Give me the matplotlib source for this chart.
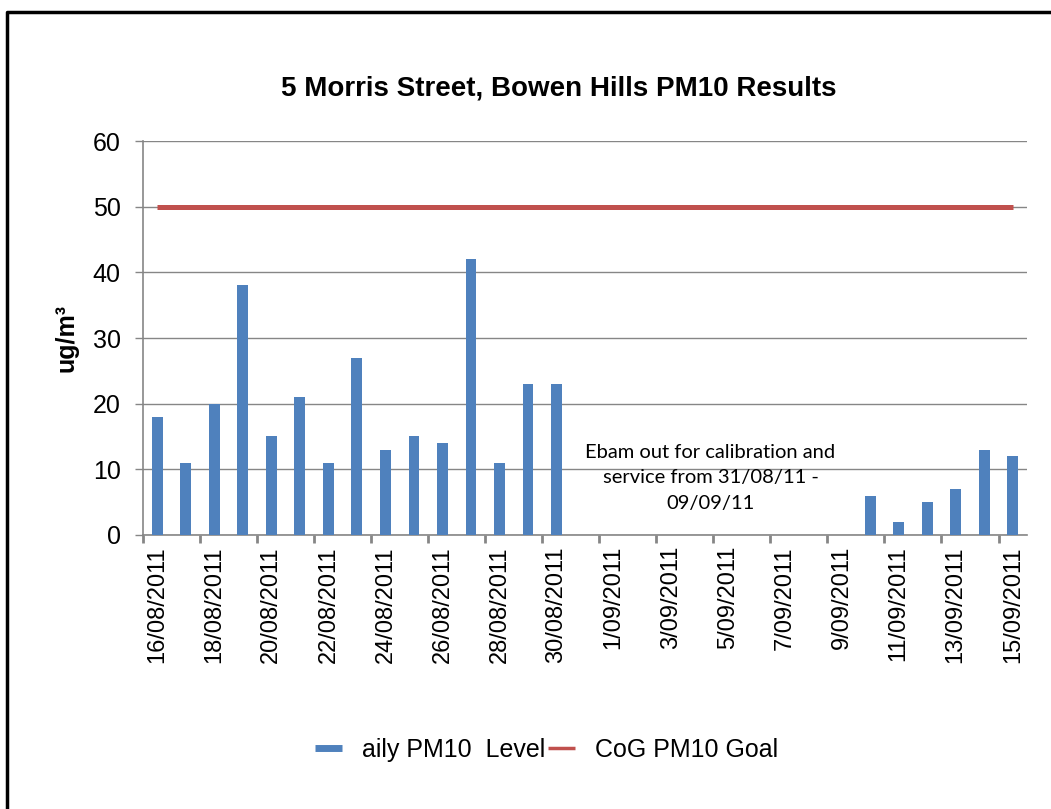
import numpy as np
import matplotlib
matplotlib.use("Agg")
import matplotlib.pyplot as plt
from matplotlib.lines import Line2D

plt.rcParams['font.family'] = ['Liberation Sans', 'DejaVu Sans']

# daily readings, 16/08/2011 - 15/09/2011 (None = Ebam offline)
dates = ['16/08/2011', '17/08/2011', '18/08/2011', '19/08/2011', '20/08/2011',
         '21/08/2011', '22/08/2011', '23/08/2011', '24/08/2011', '25/08/2011',
         '26/08/2011', '27/08/2011', '28/08/2011', '29/08/2011', '30/08/2011',
         '31/08/2011', '1/09/2011', '2/09/2011', '3/09/2011', '4/09/2011',
         '5/09/2011', '6/09/2011', '7/09/2011', '8/09/2011', '9/09/2011',
         '10/09/2011', '11/09/2011', '12/09/2011', '13/09/2011', '14/09/2011',
         '15/09/2011']
pm10 = [18, 11, 20, 38, 15, 21, 11, 27, 13, 15, 14, 42, 11, 23, 23,
        None, None, None, None, None, None, None, None, None, None,
        6, 2, 5, 7, 13, 12]
goal = [50, 50, 50, 50, 50, 50, 50, 50, 50, 50, 50, 50, 50, 50, 50, 50,
        50, 50, 50, 50, 50, 50, 50, 50, 50, 50, 50, 50, 50, 50, 50]
yticks = [0, 10, 20, 30, 40, 50, 60]

blue = '#4F81BD'
red = '#C0504D'
grey = '#868686'

fig = plt.figure(figsize=(10.51, 8.09), dpi=100)
ax = fig.add_axes([0.1361, 0.3387, 0.8411, 0.4870])

x = np.arange(len(dates))
vals = np.array([np.nan if v is None else v for v in pm10], dtype=float)
ax.bar(x, vals, width=0.38, color=blue, zorder=3)
ax.plot(x, goal, color=red, lw=3.6, solid_capstyle='butt', zorder=4)

ax.set_xlim(-0.5, len(dates) - 0.5)
ax.set_ylim(0, 60)
ax.set_yticks(yticks)
ax.set_yticklabels([str(v) for v in yticks], fontsize=18)
ax.tick_params(axis='y', length=6, width=1, color=grey, pad=10)
ax.grid(axis='y', color=grey, lw=1, zorder=0)

# tick marks on category boundaries, labels on every other date
ax.set_xticks(np.arange(-0.5, len(dates) - 1, 2))
ax.set_xticklabels([])
ax.tick_params(axis='x', which='major', length=6, width=2, color=grey)
ax.set_xticks(x[::2], minor=True)
ax.set_xticklabels(dates[::2], minor=True, rotation=90, fontsize=17)
ax.tick_params(axis='x', which='minor', length=0, pad=8)

for s in ['top', 'right']:
    ax.spines[s].set_visible(False)
for s in ['left', 'bottom']:
    ax.spines[s].set_color(grey)
    ax.spines[s].set_linewidth(1.2)

ax.set_ylabel('ug/m³', fontsize=18, fontweight='bold', labelpad=10)

ax.text(19.4, 8.7, 'Ebam out for calibration and\nservice from 31/08/11 -\n09/09/11',
        ha='center', va='center', fontsize=14.5, family=['Lato', 'DejaVu Sans'],
        linespacing=1.6, zorder=5)

fig.text(0.532, 1 - 88 / 809, '5 Morris Street, Bowen Hills PM10 Results',
         ha='center', va='center', fontsize=20, fontweight='bold')

handles = [Line2D([], [], color=blue, lw=5, solid_capstyle='butt'),
           Line2D([], [], color=red, lw=2.5, solid_capstyle='butt')]
fig.legend(handles, ['aily PM10  Level', 'CoG PM10 Goal'], loc='center',
           bbox_to_anchor=(0.52, 0.073), ncol=2, frameon=False, fontsize=18,
           handlelength=1.1, handletextpad=0.8, columnspacing=0.1)

# outer chart frame (only top and left edges are inside the picture)
fig.add_artist(Line2D([7 / 1051, 7 / 1051, 1], [0, 1 - 12 / 809, 1 - 12 / 809],
                      color='black', lw=2.5, transform=fig.transFigure))

fig.savefig('out.png', dpi=100)
